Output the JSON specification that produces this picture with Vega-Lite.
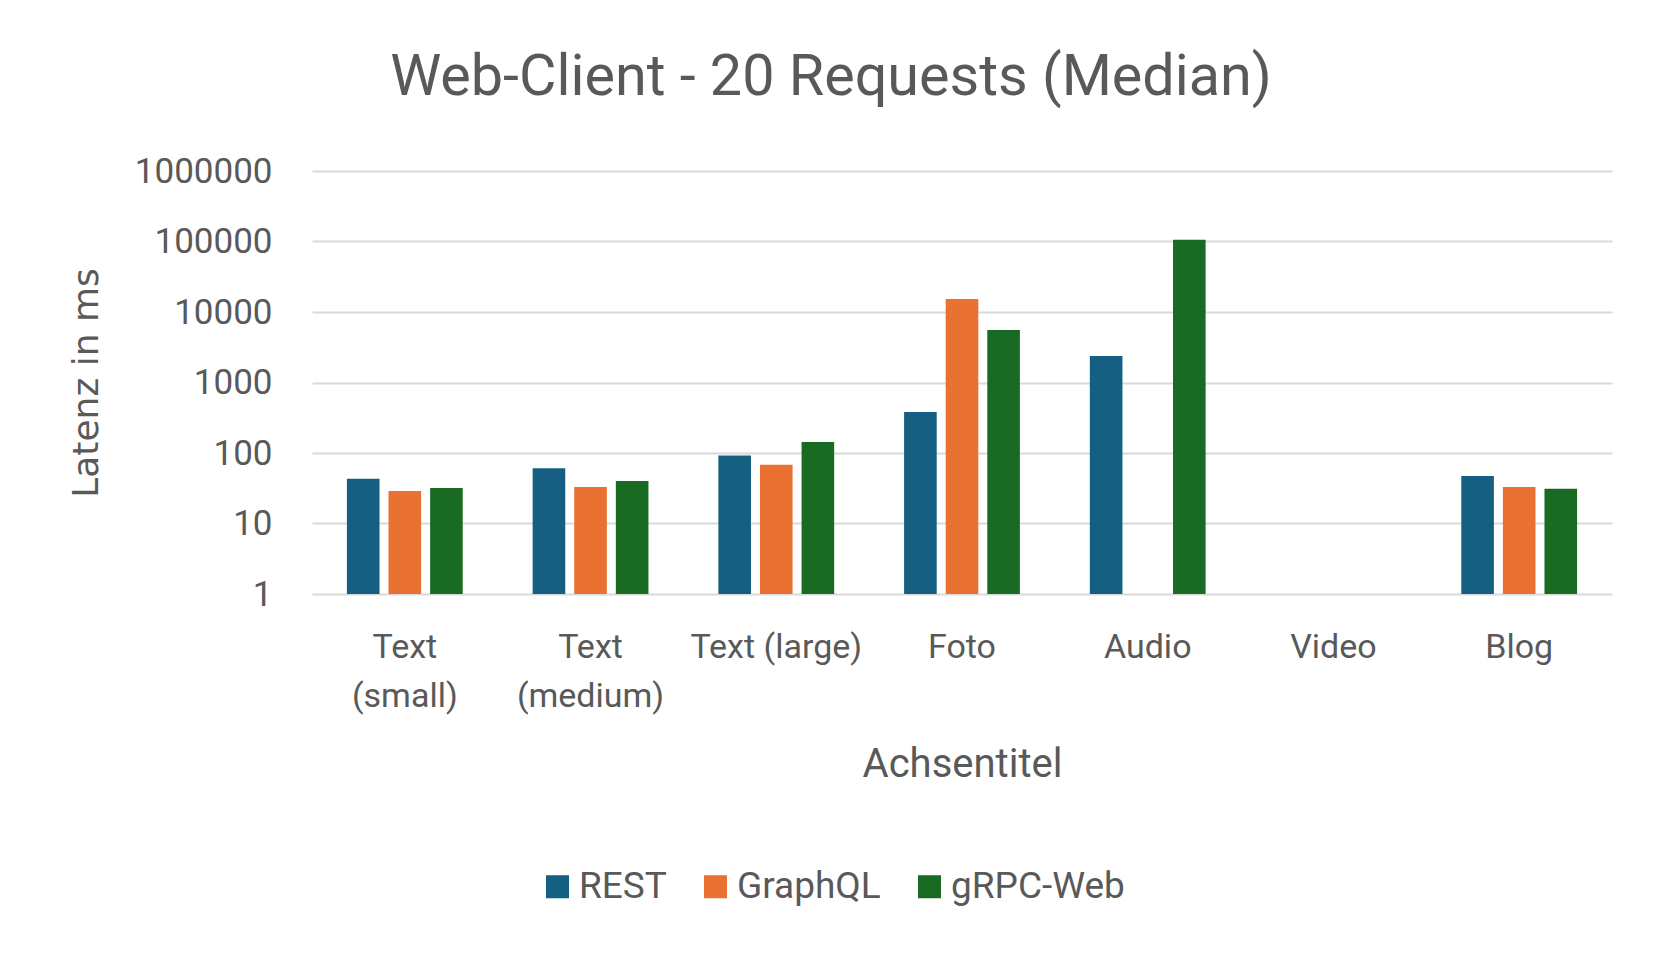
{
  "$schema": "https://vega.github.io/schema/vega-lite/v6.json",
  "width": 1300,
  "height": 423,
  "autosize": {"type": "none"},
  "padding": {"left": 312, "top": 171, "right": 52, "bottom": 360},
  "background": "white",
  "title": {
    "text": "Web-Client - 20 Requests (Median)",
    "font": "Roboto",
    "fontSize": 57.5,
    "fontWeight": "normal",
    "color": "#595959",
    "anchor": "middle",
    "dx": -131,
    "baseline": "alphabetic",
    "offset": 2
  },
  "data": {
    "values": [
      {"Kategorie": "Text (small)", "Serie": "REST", "Latenz": 43},
      {"Kategorie": "Text (small)", "Serie": "GraphQL", "Latenz": 29},
      {"Kategorie": "Text (small)", "Serie": "gRPC-Web", "Latenz": 32},
      {"Kategorie": "Text (medium)", "Serie": "REST", "Latenz": 61},
      {"Kategorie": "Text (medium)", "Serie": "GraphQL", "Latenz": 33},
      {"Kategorie": "Text (medium)", "Serie": "gRPC-Web", "Latenz": 40},
      {"Kategorie": "Text (large)", "Serie": "REST", "Latenz": 92},
      {"Kategorie": "Text (large)", "Serie": "GraphQL", "Latenz": 68},
      {"Kategorie": "Text (large)", "Serie": "gRPC-Web", "Latenz": 143},
      {"Kategorie": "Foto", "Serie": "REST", "Latenz": 382},
      {"Kategorie": "Foto", "Serie": "GraphQL", "Latenz": 15300},
      {"Kategorie": "Foto", "Serie": "gRPC-Web", "Latenz": 5560},
      {"Kategorie": "Audio", "Serie": "REST", "Latenz": 2380},
      {"Kategorie": "Audio", "Serie": "gRPC-Web", "Latenz": 106000},
      {"Kategorie": "Blog", "Serie": "REST", "Latenz": 47},
      {"Kategorie": "Blog", "Serie": "GraphQL", "Latenz": 33},
      {"Kategorie": "Blog", "Serie": "gRPC-Web", "Latenz": 31}
    ]
  },
  "mark": {"type": "bar"},
  "encoding": {
    "x": {
      "field": "Kategorie",
      "type": "nominal",
      "sort": null,
      "scale": {
        "domain": ["Text (small)", "Text (medium)", "Text (large)", "Foto", "Audio", "Video", "Blog"],
        "paddingInner": 0.3765,
        "paddingOuter": 0.188
      },
      "axis": {
        "title": "Achsentitel",
        "titleFont": "Roboto",
        "titleFontSize": 40,
        "titleFontWeight": "normal",
        "titleColor": "#595959",
        "titleY": 182,
        "titleBaseline": "alphabetic",
        "labelFont": "Roboto",
        "labelFontSize": 34,
        "labelColor": "#595959",
        "labelAngle": 0,
        "labelPadding": 36,
        "labelLineHeight": 49,
        "labelLimit": 0,
        "labelBaseline": "top",
        "labelExpr": "indexof(['Text (small)','Text (medium)'], datum.value) >= 0 ? split(datum.value, ' ') : datum.value",
        "ticks": false,
        "domain": false,
        "grid": false
      }
    },
    "xOffset": {
      "field": "Serie",
      "type": "nominal",
      "scale": {"domain": ["REST", "GraphQL", "gRPC-Web"], "paddingInner": 0.216, "paddingOuter": 0}
    },
    "y": {
      "field": "Latenz",
      "type": "quantitative",
      "stack": null,
      "scale": {"type": "log", "domain": [1, 1000000], "nice": false},
      "axis": {
        "title": "Latenz in ms",
        "titleFont": "DejaVu Sans",
        "titleFontSize": 36,
        "titleFontWeight": "normal",
        "titleColor": "#595959",
        "titleX": -215,
        "titleY": 211.5,
        "titleAlign": "center",
        "titleBaseline": "alphabetic",
        "values": [1, 10, 100, 1000, 10000, 100000, 1000000],
        "format": "d",
        "labelFont": "Roboto",
        "labelFontSize": 35,
        "labelColor": "#595959",
        "labelPadding": 40,
        "ticks": false,
        "domain": false,
        "grid": true,
        "gridColor": "#D9D9D9",
        "gridWidth": 2
      }
    },
    "color": {
      "field": "Serie",
      "type": "nominal",
      "scale": {"domain": ["REST", "GraphQL", "gRPC-Web"], "range": ["#156082", "#E97132", "#196B24"]},
      "legend": {
        "title": null,
        "orient": "none",
        "legendX": 227,
        "legendY": 697,
        "direction": "horizontal",
        "labelFont": "Roboto",
        "labelFontSize": 37,
        "labelColor": "#595959",
        "labelLimit": 0,
        "symbolType": "square",
        "symbolSize": 530,
        "symbolStrokeWidth": 0,
        "labelOffset": 3,
        "columnPadding": 30
      }
    }
  },
  "config": {"view": {"stroke": null}}
}
